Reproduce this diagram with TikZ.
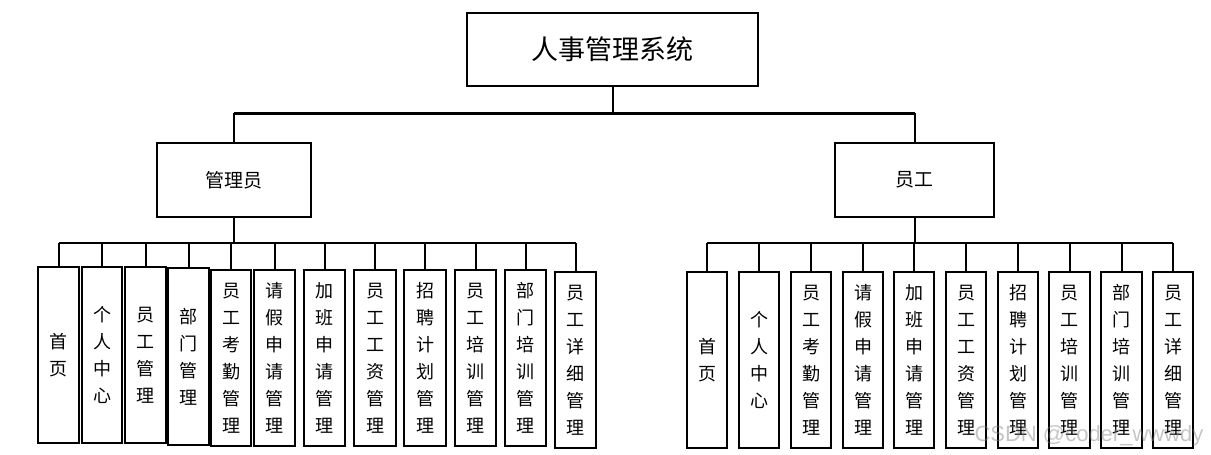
\documentclass[tikz,border=0pt]{standalone}
\usepackage{fontspec}
\newfontfamily\cjk{Noto Sans CJK SC}
\setsansfont{Liberation Sans}
\newcommand\leafbox[6]{%
  \node[leaf, minimum width={#3-#2}, minimum height={#5-#4}] (#1) at ({(#2+#3)/2},{(#4+#5)/2}) {#6};}
\begin{document}
\begin{tikzpicture}[x=1pt,y=-1pt,
  box/.style={draw=black, line width=2pt, fill=white, inner sep=0pt},
  leaf/.style={box, font=\cjk\fontsize{18}{27}\selectfont, align=center},
  conn/.style={line width=2pt},
  bus/.style={line width=3pt}]
\useasboundingbox (0,0) rectangle (1211,455);

% top levels
\node[box, minimum width=291, minimum height=73, font=\cjk\fontsize{27}{30}\selectfont] (root) at (612.5,49.5) {人事管理系统};
\node[box, minimum width=154, minimum height=74, font=\cjk\fontsize{19}{22}\selectfont] (admin) at (234,180) {管理员};
\node[box, minimum width=159, minimum height=74, font=\cjk\fontsize{19}{22}\selectfont] (emp) at (914.5,180) {员工};

% admin leaves
\leafbox{L1}{38}{79}{267}{443}{首\\页}
\leafbox{L2}{82}{122}{267}{443}{个\\人\\中\\心}
\leafbox{L3}{125}{166}{267}{443}{员\\工\\管\\理}
\leafbox{L4}{168}{209}{268}{445}{部\\门\\管\\理}
\leafbox{L5}{211}{251}{270}{446}{员\\工\\考\\勤\\管\\理}
\leafbox{L6}{254}{295}{270}{446}{请\\假\\申\\请\\管\\理}
\leafbox{L7}{304}{345}{270}{446}{加\\班\\申\\请\\管\\理}
\leafbox{L8}{354}{396}{270}{446}{员\\工\\工\\资\\管\\理}
\leafbox{L9}{404}{446}{270}{446}{招\\聘\\计\\划\\管\\理}
\leafbox{L10}{455}{496}{270}{446}{员\\工\\培\\训\\管\\理}
\leafbox{L11}{505}{546}{270}{446}{部\\门\\培\\训\\管\\理}
\leafbox{L12}{555}{596}{272}{448}{员\\工\\详\\细\\管\\理}

% employee leaves
\leafbox{R1}{687}{727}{272}{448}{首\\页}
\leafbox{R2}{739}{779}{272}{448}{个\\人\\中\\心}
\leafbox{R3}{791}{831}{272}{448}{员\\工\\考\\勤\\管\\理}
\leafbox{R4}{843}{883}{272}{448}{请\\假\\申\\请\\管\\理}
\leafbox{R5}{894}{934}{272}{448}{加\\班\\申\\请\\管\\理}
\leafbox{R6}{946}{986}{272}{448}{员\\工\\工\\资\\管\\理}
\leafbox{R7}{998}{1038}{272}{448}{招\\聘\\计\\划\\管\\理}
\leafbox{R8}{1049}{1090}{272}{448}{员\\工\\培\\训\\管\\理}
\leafbox{R9}{1101}{1142}{272}{448}{部\\门\\培\\训\\管\\理}
\leafbox{R10}{1153}{1193}{272}{448}{员\\工\\详\\细\\管\\理}

% connectors
\coordinate (j0) at (612.5,113);
\coordinate (ja) at (0,243);
\draw[conn] (root.south) -- (j0);
\draw[bus] (admin.north |- j0) -- (emp.north |- j0);
\draw[conn] (admin.north |- j0) -- (admin.north);
\draw[conn] (emp.north |- j0) -- (emp.north);

\draw[conn] (admin.south) -- (admin.south |- ja);
\draw[conn] (emp.south) -- (emp.south |- ja);
\draw[conn] (L1.north |- ja) -- (L12.north |- ja);
\draw[conn] (R1.north |- ja) -- (R10.north |- ja);
\foreach \n in {L1,L2,L3,L4,L5,L6,L7,L8,L9,L10,L11,L12,R1,R2,R3,R4,R5,R6,R7,R8,R9,R10}
  \draw[conn] (\n.north |- ja) -- (\n.north);

% watermark
\node[font=\sffamily\fontsize{22}{22}\selectfont, text=gray, opacity=0.45, anchor=east] (wm) at (1207,436) {CSDN @coder\_wwwdy};
\end{tikzpicture}
\end{document}
